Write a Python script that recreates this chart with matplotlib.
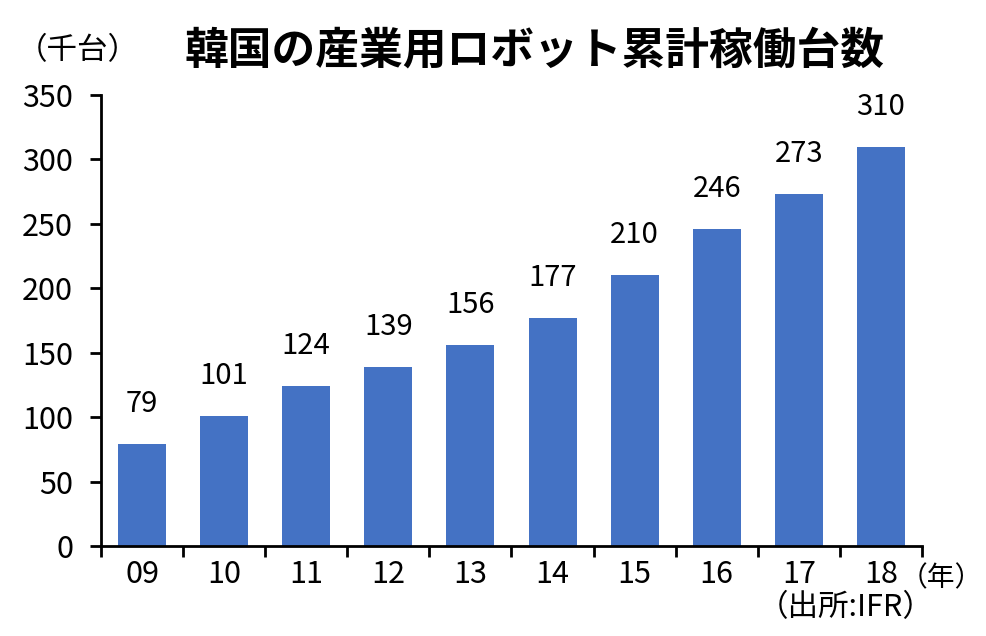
import matplotlib.pyplot as plt
import numpy as np

plt.rcParams['font.family'] = ['Noto Sans CJK JP', 'DejaVu Sans']

years = ["09", "10", "11", "12", "13", "14", "15", "16", "17", "18"]
robots = [79, 101, 124, 139, 156, 177, 210, 246, 273, 310]

fig = plt.figure(figsize=(9.86, 6.36), dpi=100)
ax = fig.add_axes([0.1024, 0.1415, 0.8327, 0.7091])

x = np.arange(len(years))
ax.bar(x, robots, width=0.585, color="#4472C4")

for xi, v in zip(x, robots):
    ax.annotate(str(v), (xi, v), xytext=(0, 18), textcoords="offset points",
                ha="center", va="bottom", fontsize=21)

ax.set_xlim(-0.5, len(years) - 0.5)
ax.set_ylim(0, 350)
ax.set_yticks(range(0, 351, 50))
ax.set_xticks(x)
ax.set_xticklabels(years)
ax.set_xticks(np.arange(-0.5, len(years)), minor=True)

ax.tick_params(axis="x", which="major", length=0, pad=9, labelsize=22)
ax.tick_params(axis="x", which="minor", length=8, width=2, direction="out")
ax.tick_params(axis="y", length=8, width=2, direction="out", pad=12, labelsize=22)

for s in ["top", "right"]:
    ax.spines[s].set_visible(False)
for s in ["left", "bottom"]:
    ax.spines[s].set_linewidth(2)

fig.text(0.542, 0.921, "韓国の産業用ロボット累計稼働台数", ha="center", va="center",
         fontsize=31.5, fontweight="bold")
fig.text(0.079, 0.921, "（千台）", ha="center", va="center", fontsize=22)
fig.text(0.997, 0.091, "（年）", ha="right", va="center", fontsize=20)
fig.text(0.858, 0.044, "（出所:IFR）", ha="center", va="center", fontsize=22)

plt.savefig("out.png", dpi=100)
plt.close(fig)
